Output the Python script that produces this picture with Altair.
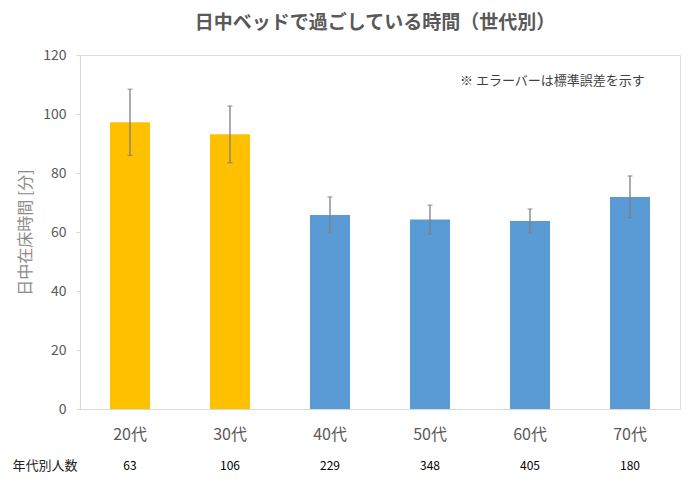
import altair as alt
import pandas as pd

ages = ["20代", "30代", "40代", "50代", "60代", "70代"]
means = [97.2, 93.1, 65.8, 64.2, 63.7, 71.9]
se = [11.2, 9.6, 6.1, 4.9, 4.1, 7.1]
counts = [63, 106, 229, 348, 405, 180]

title_text = "日中ベッドで過ごしている時間（世代別）"
note_text = "※ エラーバーは標準誤差を示す"
row_label = "年代別人数"
y_title = "日中在床時間 [分]"

df = pd.DataFrame({"age": ages, "mean": means, "se": se, "n": counts})
df["lo"] = df["mean"] - df["se"]
df["hi"] = df["mean"] + df["se"]

FONT = "Noto Sans CJK JP"
YELLOW = "#FFC000"
BLUE = "#5B9BD5"

x_enc = alt.X("age:N", sort=ages, title=None,
              scale=alt.Scale(paddingInner=0.6, paddingOuter=0.3),
              axis=alt.Axis(labelAngle=0, labelFontSize=16, labelColor="#595959",
                            labelPadding=17, ticks=False, domainColor="#d9d9d9",
                            labelFont=FONT))
y_scale = alt.Scale(domain=[0, 120])

base = alt.Chart(df)

bars = base.mark_bar().encode(
    x=x_enc,
    y=alt.Y("mean:Q", scale=y_scale, title=y_title,
            axis=alt.Axis(values=[0, 20, 40, 60, 80, 100, 120], grid=False,
                          labelFontSize=14, labelColor="#595959", labelPadding=10,
                          tickSize=4, tickColor="#d9d9d9", domainColor="#d9d9d9",
                          titleFontSize=16, titleColor="#8c8c8c", titleFontWeight="normal",
                          titlePadding=9, labelFont=FONT, titleFont=FONT)),
    color=alt.Color("age:N", scale=alt.Scale(domain=ages,
                    range=[YELLOW, YELLOW, BLUE, BLUE, BLUE, BLUE]), legend=None),
)

err = base.mark_rule(color="#7f7f7f", strokeWidth=1.3).encode(
    x=alt.X("age:N", sort=ages),
    y=alt.Y("lo:Q", scale=y_scale),
    y2="hi:Q",
)
cap_hi = base.mark_tick(color="#7f7f7f", orient="horizontal", size=5, thickness=1.3).encode(
    x=alt.X("age:N", sort=ages), y=alt.Y("hi:Q", scale=y_scale))
cap_lo = base.mark_tick(color="#7f7f7f", orient="horizontal", size=5, thickness=1.3).encode(
    x=alt.X("age:N", sort=ages), y=alt.Y("lo:Q", scale=y_scale))

count_text = base.mark_text(font=FONT, fontSize=12, color="#000000",
                            baseline="middle").encode(
    x=alt.X("age:N", sort=ages),
    y=alt.value(411),
    text="n:Q",
)

label_df = pd.DataFrame({"t": [row_label]})
row_text = alt.Chart(label_df).mark_text(font=FONT, fontSize=13, color="#222222",
                                         baseline="middle", align="center").encode(
    x=alt.value(-35), y=alt.value(411), text="t:N")

title_df = pd.DataFrame({"t": [title_text]})
title = alt.Chart(title_df).mark_text(font=FONT, fontSize=19, fontWeight="bold",
                                      color="#595959", baseline="middle", align="center").encode(
    x=alt.value(295), y=alt.value(-32), text="t:N")

note_df = pd.DataFrame({"t": [note_text]})
note = alt.Chart(note_df).mark_text(font=FONT, fontSize=13, color="#404040",
                                    baseline="middle", align="left").encode(
    x=alt.value(380), y=alt.value(26), text="t:N")

chart = alt.layer(bars, err, cap_hi, cap_lo, count_text, row_text, title, note).properties(
    width=600, height=354,
    autosize=alt.AutoSizeParams(type="none"),
    padding={"left": 72, "top": 47, "right": 2, "bottom": 72},
).configure_view(stroke=None).configure(font=FONT)

chart.save("out.html", embed_options={"renderer": "svg", "actions": False})
